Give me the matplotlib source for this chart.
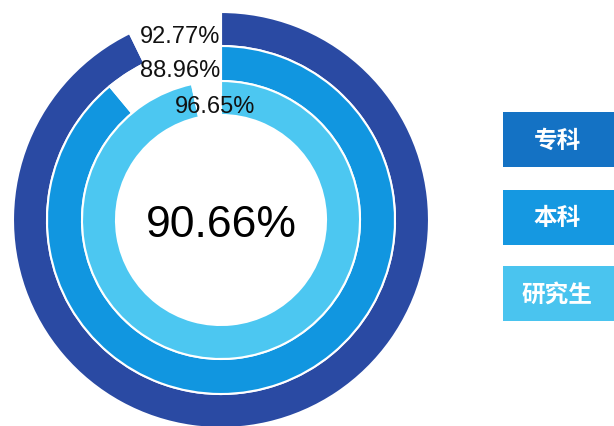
import matplotlib
matplotlib.use("Agg")
import matplotlib.pyplot as plt
from matplotlib.patches import Rectangle

plt.rcParams['font.family'] = ['Liberation Sans', 'Noto Sans CJK SC', 'DejaVu Sans']

# data
levels = ['专科', '本科', '研究生']
rates = [92.77, 88.96, 96.65]
overall = 90.66

ring_colors = ['#2a4aa3', '#1196e0', '#4cc7f1']
box_colors = ['#1472c4', '#1598e1', '#4ac4ef']

W, H = 614, 427
fig = plt.figure(figsize=(W / 100, H / 100), dpi=100)
ax = fig.add_axes([0, 0, 1, 1])

cx, cy = 221, H - 221
radii = [208, 174, 139]
widths = [34, 35, 34]

for rate, col, r, w in zip(rates, ring_colors, radii, widths):
    ax.pie([rate, 100 - rate], radius=r, center=(cx, cy), startangle=90,
           counterclock=False, colors=[col, 'none'],
           wedgeprops=dict(width=w, edgecolor='white', linewidth=1.5))

# percentage labels near the ring starts
label_pos = [(220, 37, 'right'), (220, 71, 'right'), (255, 107, 'right')]
for rate, (x, y, ha) in zip(rates, label_pos):
    ax.text(x, H - y, f'{rate:.2f}%', ha=ha, va='center', fontsize=17, color='#111111')

ax.text(cx, H - 226, f'{overall:.2f}%', ha='center', va='center', fontsize=32, color='#000000')

# legend boxes
box_y = [113, 191, 267]
for lab, col, y in zip(levels, box_colors, box_y):
    ax.add_patch(Rectangle((503, H - y - 55), 120, 55, facecolor=col, edgecolor='none'))
    ax.text(557, H - y - 27.5, lab, ha='center', va='center', fontsize=17,
            color='white', fontweight='bold', family=['Noto Sans CJK SC', 'DejaVu Sans'])

ax.set_xlim(0, W)
ax.set_ylim(0, H)
ax.set_aspect('equal')
ax.axis('off')

fig.savefig('out.png', dpi=100, facecolor='white')
